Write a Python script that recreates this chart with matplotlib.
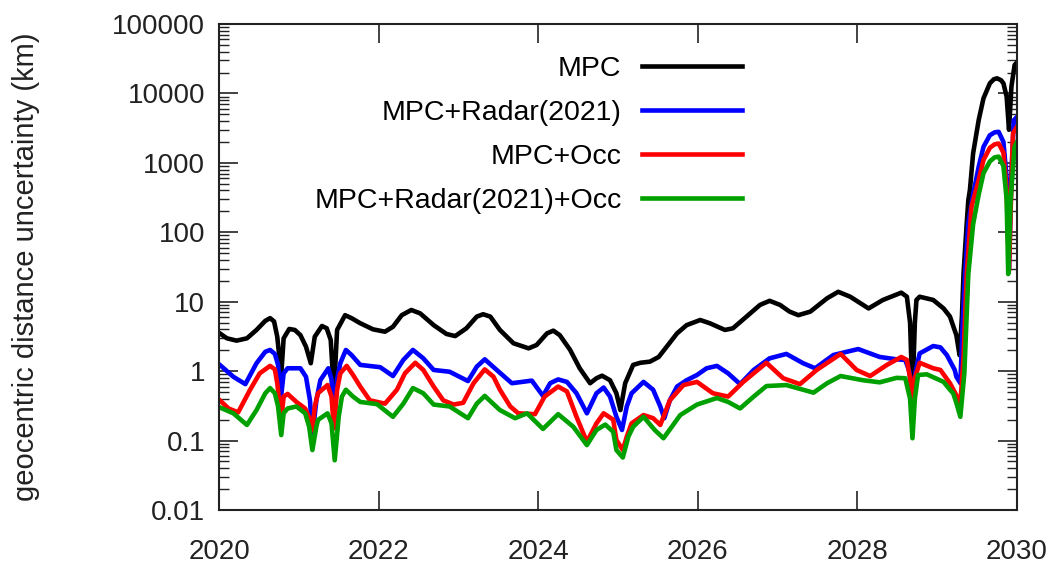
import matplotlib
matplotlib.use("Agg")
import matplotlib.pyplot as plt
from matplotlib.ticker import FixedLocator, LogLocator, NullFormatter
import numpy as np

plt.rcParams['font.family'] = ['Liberation Sans', 'DejaVu Sans']

# MPC
t_mpc = [2020.01, 2020.10, 2020.22, 2020.35, 2020.47, 2020.58, 2020.64, 2020.69, 2020.73, 2020.78,
         2020.81, 2020.88, 2020.95, 2021.02, 2021.09, 2021.15, 2021.20, 2021.29, 2021.35, 2021.40,
         2021.44, 2021.48, 2021.58, 2021.66, 2021.77, 2021.93, 2022.08, 2022.18, 2022.29, 2022.41,
         2022.52, 2022.69, 2022.85, 2022.96, 2023.10, 2023.23, 2023.31, 2023.40, 2023.52, 2023.69,
         2023.88, 2023.98, 2024.11, 2024.19, 2024.27, 2024.40, 2024.52, 2024.65, 2024.73, 2024.80,
         2024.90, 2024.98, 2025.03, 2025.09, 2025.19, 2025.28, 2025.40, 2025.51, 2025.61, 2025.74,
         2025.86, 2026.03, 2026.15, 2026.34, 2026.44, 2026.61, 2026.78, 2026.90, 2027.03, 2027.15,
         2027.26, 2027.41, 2027.62, 2027.76, 2027.91, 2028.14, 2028.32, 2028.55, 2028.62, 2028.66,
         2028.69, 2028.72, 2028.74, 2028.78, 2028.95, 2029.08, 2029.16, 2029.24, 2029.28, 2029.31,
         2029.33, 2029.37, 2029.39, 2029.41, 2029.45, 2029.52, 2029.58, 2029.66, 2029.71, 2029.75,
         2029.80, 2029.83, 2029.87, 2029.90, 2029.93, 2029.97, 2030.00]
v_mpc = [3.5, 2.97, 2.75, 2.97, 3.92, 5.3, 5.8, 5.2, 3.13, 0.88,
         2.97, 4.05, 3.92, 3.3, 2.25, 1.3, 3.13, 4.47, 4.14, 2.81,
         0.5, 3.92, 6.4, 5.8, 4.9, 4.0, 3.7, 4.36, 6.4, 7.6,
         6.8, 4.6, 3.43, 3.2, 4.14, 6.1, 6.6, 6.1, 3.92, 2.52,
         2.13, 2.38, 3.5, 3.83, 3.3, 2.02, 1.1, 0.67, 0.79, 0.86,
         0.74, 0.48, 0.275, 0.67, 1.23, 1.32, 1.37, 1.6, 2.25, 3.5,
         4.6, 5.45, 4.9, 3.92, 4.14, 6.1, 9.0, 10.3, 9.0, 7.2,
         6.4, 7.2, 11.2, 13.9, 11.8, 8.0, 10.6, 13.5, 11.8, 5.0,
         0.45, 5.0, 10.6, 11.8, 10.6, 8.0, 6.1, 3.3, 1.7, 6.2,
         25.6, 135, 290, 407, 1370, 4140, 8500, 14000, 16000, 16500,
         15500, 14000, 9000, 3000, 12500, 25700, 28000]

# MPC+Radar(2021)
t_radar = [2020.01, 2020.18, 2020.33, 2020.47, 2020.58, 2020.64, 2020.70, 2020.74, 2020.78, 2020.81,
           2020.86, 2021.02, 2021.09, 2021.14, 2021.17, 2021.22, 2021.27, 2021.37, 2021.41, 2021.44,
           2021.48, 2021.52, 2021.59, 2021.66, 2021.77, 2022.02, 2022.18, 2022.31, 2022.43, 2022.56,
           2022.69, 2022.89, 2023.12, 2023.23, 2023.33, 2023.48, 2023.67, 2023.92, 2024.06, 2024.15,
           2024.25, 2024.36, 2024.48, 2024.61, 2024.73, 2024.82, 2024.90, 2024.98, 2025.05, 2025.11,
           2025.17, 2025.32, 2025.44, 2025.53, 2025.58, 2025.65, 2025.74, 2025.86, 2025.99, 2026.11,
           2026.24, 2026.38, 2026.53, 2026.70, 2026.90, 2027.11, 2027.32, 2027.47, 2027.70, 2028.01,
           2028.28, 2028.49, 2028.60, 2028.65, 2028.69, 2028.73, 2028.78, 2028.95, 2029.04, 2029.12,
           2029.22, 2029.24, 2029.29, 2029.32, 2029.35, 2029.39, 2029.45, 2029.52, 2029.58, 2029.66,
           2029.72, 2029.77, 2029.83, 2029.87, 2029.90, 2029.93, 2029.96, 2030.00]
v_radar = [1.23, 0.83, 0.65, 1.3, 1.9, 2.02, 1.77, 1.23, 0.45, 0.93,
           1.1, 1.1, 0.83, 0.38, 0.114, 0.38, 0.74, 1.1, 0.76, 0.18,
           0.76, 1.3, 2.02, 1.71, 1.23, 1.14, 0.85, 1.45, 2.02, 1.53,
           1.04, 0.98, 0.72, 1.16, 1.48, 1.04, 0.67, 0.73, 0.44, 0.67,
           0.76, 0.70, 0.48, 0.247, 0.48, 0.58, 0.43, 0.22, 0.142, 0.31,
           0.48, 0.70, 0.54, 0.31, 0.21, 0.38, 0.6, 0.74, 0.88, 1.1,
           1.19, 0.93, 0.65, 1.04, 1.53, 1.77, 1.3, 1.1, 1.71, 2.08,
           1.6, 1.48, 1.45, 1.0, 0.45, 1.0, 1.8, 2.3, 2.2, 1.71,
           1.04, 0.83, 0.67, 4.9, 25.6, 135, 350, 880, 1700, 2500,
           2750, 2800, 2000, 600, 30, 700, 4100, 4600]

# MPC+Occ
t_occ = [2020.01, 2020.12, 2020.24, 2020.39, 2020.51, 2020.64, 2020.70, 2020.73, 2020.78, 2020.81,
         2020.86, 2020.97, 2021.08, 2021.14, 2021.17, 2021.20, 2021.24, 2021.36, 2021.41, 2021.44,
         2021.48, 2021.52, 2021.60, 2021.68, 2021.77, 2021.89, 2022.08, 2022.23, 2022.33, 2022.46,
         2022.56, 2022.69, 2022.81, 2022.94, 2023.06, 2023.19, 2023.33, 2023.44, 2023.52, 2023.65,
         2023.75, 2023.96, 2024.08, 2024.25, 2024.36, 2024.48, 2024.61, 2024.73, 2024.82, 2024.94,
         2024.98, 2025.06, 2025.11, 2025.17, 2025.32, 2025.44, 2025.53, 2025.65, 2025.82, 2025.99,
         2026.19, 2026.38, 2026.57, 2026.86, 2027.07, 2027.28, 2027.49, 2027.79, 2027.99, 2028.16,
         2028.37, 2028.55, 2028.62, 2028.66, 2028.69, 2028.72, 2028.78, 2028.95, 2029.04, 2029.16,
         2029.24, 2029.29, 2029.33, 2029.37, 2029.43, 2029.52, 2029.58, 2029.66, 2029.72, 2029.77,
         2029.83, 2029.87, 2029.90, 2029.93, 2029.95, 2030.00]
v_occ = [0.38, 0.29, 0.255, 0.54, 0.93, 1.19, 1.06, 0.67, 0.2, 0.43,
         0.47, 0.36, 0.29, 0.2, 0.14, 0.31, 0.48, 0.63, 0.43, 0.15,
         0.54, 0.93, 1.19, 0.88, 0.6, 0.38, 0.34, 0.54, 0.93, 1.32,
         1.04, 0.6, 0.38, 0.33, 0.35, 0.67, 1.06, 0.83, 0.54, 0.31,
         0.247, 0.24, 0.43, 0.6, 0.51, 0.22, 0.096, 0.177, 0.247, 0.2,
         0.102, 0.073, 0.114, 0.177, 0.233, 0.21, 0.168, 0.38, 0.63, 0.70,
         0.48, 0.43, 0.70, 1.32, 0.79, 0.65, 1.04, 1.77, 1.04, 0.85,
         1.23, 1.6, 1.45, 0.8, 0.33, 0.8, 1.32, 1.1, 1.04, 0.67,
         0.45, 0.33, 1.6, 25, 233, 566, 1100, 1650, 1850, 1900,
         1400, 400, 28, 500, 2670, 3300]

# MPC+Radar(2021)+Occ
t_both = [2020.01, 2020.18, 2020.35, 2020.47, 2020.58, 2020.64, 2020.70, 2020.74, 2020.78, 2020.81,
          2020.86, 2020.97, 2021.08, 2021.13, 2021.17, 2021.22, 2021.24, 2021.36, 2021.41, 2021.45,
          2021.50, 2021.54, 2021.59, 2021.68, 2021.77, 2021.98, 2022.18, 2022.31, 2022.43, 2022.56,
          2022.69, 2022.89, 2023.12, 2023.23, 2023.33, 2023.52, 2023.71, 2023.86, 2024.06, 2024.25,
          2024.44, 2024.61, 2024.73, 2024.84, 2024.94, 2024.98, 2025.06, 2025.13, 2025.19, 2025.32,
          2025.46, 2025.57, 2025.78, 2025.99, 2026.24, 2026.38, 2026.53, 2026.70, 2026.86, 2027.11,
          2027.45, 2027.62, 2027.79, 2028.07, 2028.28, 2028.49, 2028.60, 2028.66, 2028.69, 2028.72,
          2028.76, 2028.87, 2029.08, 2029.16, 2029.20, 2029.24, 2029.29, 2029.34, 2029.39, 2029.45,
          2029.52, 2029.58, 2029.66, 2029.72, 2029.77, 2029.83, 2029.87, 2029.89, 2029.92, 2029.97,
          2030.00]
v_both = [0.3, 0.247, 0.168, 0.275, 0.48, 0.57, 0.48, 0.31, 0.12, 0.247,
          0.29, 0.31, 0.247, 0.158, 0.073, 0.158, 0.198, 0.247, 0.177, 0.052,
          0.22, 0.43, 0.54, 0.43, 0.36, 0.335, 0.22, 0.34, 0.57, 0.48,
          0.33, 0.31, 0.21, 0.34, 0.44, 0.275, 0.21, 0.247, 0.147, 0.24,
          0.158, 0.086, 0.142, 0.17, 0.134, 0.073, 0.057, 0.114, 0.158, 0.22,
          0.142, 0.108, 0.233, 0.33, 0.41, 0.36, 0.29, 0.43, 0.61, 0.63,
          0.49, 0.67, 0.85, 0.74, 0.69, 0.8, 0.79, 0.4, 0.108, 0.4,
          0.88, 0.9, 0.70, 0.54, 0.48, 0.35, 0.22, 0.93, 25, 130,
          350, 708, 1050, 1200, 1230, 900, 300, 25, 300, 1700,
          2000]

labels = ['MPC', 'MPC+Radar(2021)', 'MPC+Occ', 'MPC+Radar(2021)+Occ']
colors = ['black', '#0000ff', '#ff0000', '#00a000']
years = [2020, 2022, 2024, 2026, 2028, 2030]
ydecades = [0.01, 0.1, 1, 10, 100, 1000, 10000, 100000]
ytick_labels = ['0.01', '0.1', '1', '10', '100', '1000', '10000', '100000']

fig = plt.figure(figsize=(10.53, 5.69), dpi=100)
ax = fig.add_axes([219/1053, 59/569, 798/1053, 486/569])

series = [(t_mpc, v_mpc), (t_radar, v_radar), (t_occ, v_occ), (t_both, v_both)]
for (t, v), lab, c in zip(series, labels, colors):
    ax.plot(t, v, color=c, lw=3.3, label=lab, solid_joinstyle='round')

ax.set_yscale('log')
ax.set_xlim(2020, 2030)
ax.set_ylim(0.01, 100000)
ax.set_xticks(years)
ax.set_xticklabels([str(y) for y in years])
ax.yaxis.set_major_locator(FixedLocator(ydecades))
ax.set_yticklabels(ytick_labels)
ax.yaxis.set_minor_locator(LogLocator(base=10, subs=np.arange(2, 10), numticks=20))
ax.yaxis.set_minor_formatter(NullFormatter())

ax.tick_params(axis='both', which='major', direction='in', length=14, width=1.2,
               top=True, right=True, labelsize=20, colors='#222222')
ax.tick_params(axis='x', which='major', pad=21)
ax.tick_params(axis='y', which='major', pad=10)
ax.tick_params(axis='y', which='minor', direction='in', length=7, width=1.0,
               left=True, right=True, colors='#222222')
for s in ax.spines.values():
    s.set_linewidth(1.5)
    s.set_color('#222222')

ax.set_ylabel('geocentric distance uncertainty (km)', fontsize=21, color='#222222')
ax.yaxis.set_label_coords(-0.224, 0.5)

ax.legend(loc='upper right', bbox_to_anchor=(0.655, 0.934), frameon=False,
          markerfirst=False, fontsize=20.5, handlelength=3.5, handletextpad=0.72,
          labelspacing=0.63, borderpad=0, borderaxespad=0)

fig.savefig('out.png', dpi=100)
